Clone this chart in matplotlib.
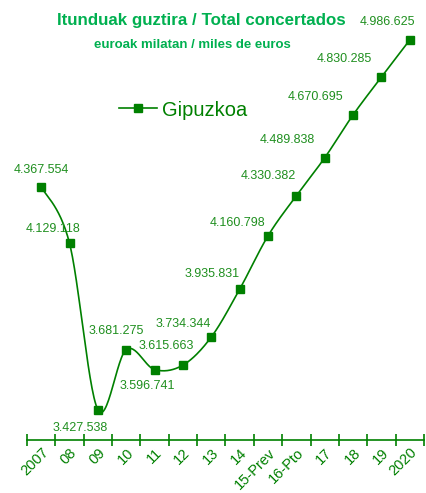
import numpy as np
import matplotlib.pyplot as plt
from matplotlib.lines import Line2D

plt.rcParams['font.family'] = ['Liberation Sans', 'DejaVu Sans']

years = ['2007', '08', '09', '10', '11', '12', '13', '14', '15-Prev', '16-Pto',
         '17', '18', '19', '2020']
values = [4367554, 4129118, 3427538, 3681275, 3596741, 3615663, 3734344,
          3935831, 4160798, 4330382, 4489838, 4670695, 4830285, 4986625]

# label offsets in points (dx, dy) relative to each marker
offsets = [(0, 12), (-12, 10), (-13, -13), (-7, 13), (-5, -12), (-12, 14),
           (-20, 9), (-20, 11), (-22, 9), (-20, 14), (-27, 13), (-27, 13),
           (-27, 13), (-16, 13)]

green = '#008000'
text_green = '#1f8f1f'
title_green = '#00b050'


def fmt(v):
    return f'{v:,}'.replace(',', '.')


def smooth(x, y, n=30):
    # Catmull-Rom style bezier smoothing like a spreadsheet "smoothed line"
    x = np.asarray(x, float)
    y = np.asarray(y, float)
    px = np.concatenate([[x[0]], x, [x[-1]]])
    py = np.concatenate([[y[0]], y, [y[-1]]])
    xs, ys = [], []
    t = np.linspace(0, 1, n)
    for i in range(1, len(px) - 2):
        p0 = np.array([px[i], py[i]])
        p3 = np.array([px[i + 1], py[i + 1]])
        p1 = p0 + (np.array([px[i + 1], py[i + 1]]) - np.array([px[i - 1], py[i - 1]])) / 6
        p2 = p3 - (np.array([px[i + 2], py[i + 2]]) - np.array([px[i], py[i]])) / 6
        b = ((1 - t) ** 3)[:, None] * p0 + (3 * (1 - t) ** 2 * t)[:, None] * p1 \
            + (3 * (1 - t) * t ** 2)[:, None] * p2 + (t ** 3)[:, None] * p3
        xs.extend(b[:, 0])
        ys.extend(b[:, 1])
    return xs, ys


fig = plt.figure(figsize=(4.27, 4.93), dpi=100)
ax = fig.add_axes([27 / 427, 53 / 493, 397 / 427, 427 / 493])

x = np.arange(len(years))
sx, sy = smooth(x, values)
ax.plot(sx, sy, color=green, lw=1.2)
ax.plot(x, values, ls='none', marker='s', ms=5.5, color=green)

for xi, v, (dx, dy) in zip(x, values, offsets):
    ax.annotate(fmt(v), (xi, v), xytext=(dx, dy), textcoords='offset points',
                ha='center', va='center', fontsize=9, color=text_green)

ax.set_xlim(-0.5, len(years) - 0.5)
ax.set_ylim(3300000, 5100000)
ax.set_yticks([])
for s in ['top', 'right', 'left']:
    ax.spines[s].set_visible(False)
ax.spines['bottom'].set_color(green)
ax.spines['bottom'].set_linewidth(1.2)

ax.set_xticks(x)
ax.set_xticklabels(years, rotation=45, ha='right', rotation_mode='anchor',
                   fontsize=10.5, color=green)
ax.tick_params(axis='x', which='major', length=0, pad=4)
ax.set_xticks(np.arange(-0.5, len(years)), minor=True)
ax.tick_params(axis='x', which='minor', direction='inout', length=8,
               width=1.2, color=green)

fig.text(201 / 427, 1 - 20 / 493, 'Itunduak guztira / Total concertados',
         ha='center', va='center', fontsize=12.2, fontweight='bold',
         color=title_green)
fig.text(192 / 427, 1 - 45 / 493, 'euroak milatan / miles de euros',
         ha='center', va='center', fontsize=9.5, fontweight='bold',
         color=title_green)

handle = Line2D([], [], color=green, lw=1.2, marker='s', ms=5.5)
leg = ax.legend([handle], ['Gipuzkoa'], loc='center left',
                bbox_to_anchor=(92 / 397, 1 - (110 - 13) / 427), frameon=False,
                fontsize=14.5, labelcolor=green, handlelength=1.9,
                handletextpad=0.25, borderpad=0, borderaxespad=0)

fig.savefig('out.png', dpi=100)
